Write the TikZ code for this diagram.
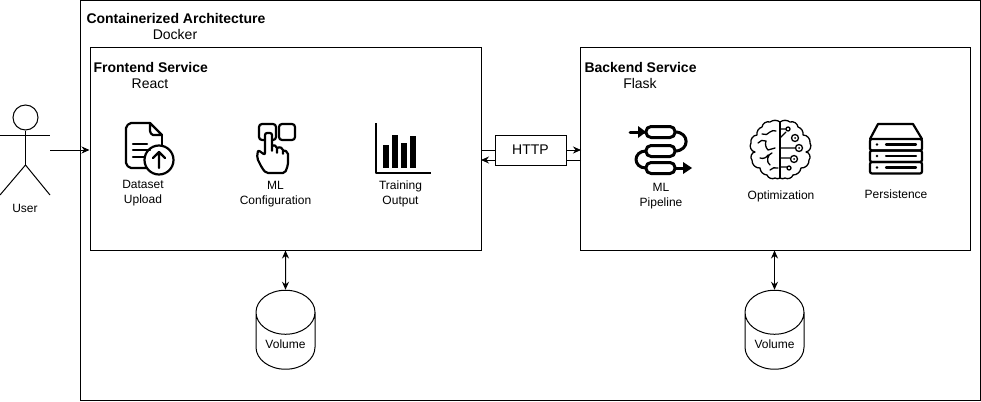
\documentclass[tikz,border=0pt]{standalone}
\usepackage{fontspec}
\setmainfont{Liberation Sans}
\usetikzlibrary{arrows.meta,positioning,calc,shapes.geometric}

\tikzset{
    box/.style={draw, line width=1pt, fill=white, inner sep=0pt},
    title/.style={anchor=west, inner sep=0pt, font=\fontsize{14}{16}\selectfont\bfseries},
    tech/.style={inner sep=0pt, font=\fontsize{14}{16}\selectfont},
    label/.style={inner sep=0pt, align=center, font=\fontsize{12}{15}\selectfont},
    volume/.style={draw, line width=1pt, shape=cylinder, shape border rotate=90, aspect=1.1,
        minimum width=59pt, minimum height=79pt, inner sep=0pt, font=\fontsize{12}{15}\selectfont},
    icon/.style={line width=2.2pt, line join=round, line cap=round},
    pipe/.style={line width=3pt, line join=round, line cap=round},
    thin icon/.style={line width=1.3pt, line join=round, line cap=round},
}

\begin{document}
\begin{tikzpicture}[x=1pt,y=-1pt,>={Stealth[length=8pt,width=7pt]},line width=1pt]
    \useasboundingbox (0,0) rectangle (981,401);

    \node[box, minimum width=900pt, minimum height=399pt] (docker)   at (530,200.5) {};
    \node[box, minimum width=391pt, minimum height=202pt] (frontend) at (285.5,149) {};
    \node[box, minimum width=390pt, minimum height=202pt] (backend)  at (775.5,149) {};

    \node[title] (dockertitle) at (86,18)  {Containerized Architecture};
    \node[tech]  (dockertech)  at (175,34) {Docker};
    \node[title] (fronttitle)  at (93,67)  {Frontend Service};
    \node[tech]  (fronttech)   at (150,84) {React};
    \node[title] (backtitle)   at (584,67) {Backend Service};
    \node[tech]  (backtech)    at (640,83.5) {Flask};

    % user
    \node[draw, circle, minimum size=25pt, inner sep=0pt] (head) at (25.5,117.5) {};
    \coordinate (hip) at (25.5,165);
    \coordinate (armr) at (50,135);
    \coordinate (hand) at (50,150);
    \draw (head.south) -- (hip);
    \draw (0,135) -- (armr);
    \draw (0,195) -- (hip) -- (50,195);
    \node[label] (user) at (25,208) {User};

    \coordinate (frontin) at (frontend.west |- hand);
    \draw[->] (hand) -- (frontin);

    % http
    \coordinate (fronta) at (481,150);
    \coordinate (backa)  at (581,150);
    \coordinate (frontb) at (481,160);
    \coordinate (backb)  at (581,160);
    \draw[->] (fronta) -- (backa);
    \draw[->] (backb) -- (frontb);
    \node[box, minimum width=71pt, minimum height=30pt, font=\fontsize{14}{16}\selectfont] (http) at (530.5,150) {HTTP};

    % volumes
    \node[volume] (volfront) at (285.5,341) {\raisebox{-7.5pt}[0pt][0pt]{Volume}};
    \node[volume] (volback)  at (774.5,341) {\raisebox{-7.5pt}[0pt][0pt]{Volume}};
    \draw[<->] (frontend.south) -- (volfront.north);
    \draw[<->] (backend.south -| volback.north) -- (volback.north);

    % dataset upload
    \draw[icon] (150,123) -- (131,123) to[bend right=30] (126,128) -- (126,163) to[bend right=30] (131,168) -- (146,168);
    \draw[icon] (150,123) -- (150,131) to[bend right=30] (153,135) -- (162,135) -- (150,123);
    \draw[icon] (162,135) -- (162,146);
    \draw[icon] (133,144) -- (147,144) (133,150) -- (150,150) (133,157) -- (145,157);
    \draw[icon] (159,160) circle (14.5);
    \draw[icon] (159,168) -- (159,152) (153,158) -- (159,152) -- (165,158);
    \node[label] (dataset) at (143,193) {Dataset\\Upload};

    % ml configuration
    \draw[icon, rounded corners=3pt] (259,124) rectangle (276,140);
    \draw[icon, rounded corners=3pt] (279,124) rectangle (295,140);
    \draw[icon, fill=white, rounded corners=2pt] (265,155) -- (258,150) -- (257,158) -- (262,168) -- (266,173) -- (285,173) -- (288,165) -- (288,152)
        -- (283,150) -- (283,155) -- (283,148) -- (277,147) -- (277,154) -- (277,146) -- (272,145) -- (272,152) -- (272,133) -- (265,133) -- cycle;
    \node[label] (config) at (275.5,194) {ML\\Configuration};

    % training output
    \draw[icon, line width=2.6pt, line cap=butt] (376,123) -- (376,173) -- (431,173);
    \foreach \x/\y in {383/145, 392/135, 401/143, 410/136}
        \fill (\x,\y) rectangle (\x+6,168);
    \node[label] (training) at (400.5,194) {Training\\Output};

    % ml pipeline
    \draw[pipe] (675,132) to[out=0,in=0,looseness=2] (675,151);
    \draw[pipe] (646,151) to[out=180,in=180,looseness=2] (646,168);
    \draw[pipe] (630,132) -- (644,132);
    \fill (638,126) -- (646,132) -- (638,138) -- cycle;
    \draw[pipe] (675,168) -- (685,168);
    \fill (683,162) -- (692,168) -- (683,174) -- cycle;
    \foreach \y in {132,151,168}
        \draw[pipe, fill=white, rounded corners=5pt] (646,\y-5.5) rectangle (675,\y+5.5);
    \node[label] (pipeline) at (661,196) {ML\\Pipeline};

    % optimization
    \draw[thin icon] (780,122) -- (780,178);
    \draw[thin icon] (780,122) to[bend right=35] (770,122) to[bend right=50] (762,127) to[bend right=40] (757,135)
        to[bend right=50] (751,143) to[bend right=60] (755,152) to[bend right=70] (752,160) to[bend right=50] (760,168)
        to[bend right=40] (767,175) to[bend right=50] (775,178) to[bend right=30] (780,178);
    \draw[thin icon] (780,122) to[bend left=35] (790,122) to[bend left=50] (798,127) to[bend left=40] (803,135)
        to[bend left=50] (810,143) to[bend left=60] (806,152) to[bend left=70] (809,160) to[bend left=50] (801,168)
        to[bend left=40] (793,175) to[bend left=50] (785,178) to[bend left=30] (780,178);
    \draw[thin icon] (762,134) to[bend right=40] (770,132) to[bend left=30] (776,131);
    \draw[thin icon] (758,143) to[bend left=40] (766,141) to[bend right=30] (768,150) (768,150) -- (775,148);
    \draw[thin icon] (760,158) to[bend right=40] (768,155) (772,153) to[bend right=70] (770,165);
    \draw[thin icon] (770,170) to[bend left=30] (778,168);
    \draw[thin icon] (780,129) -- (786,129) (780,138) -- (786,132) (780,148) -- (795,148) (780,158) -- (790,158) (780,167) -- (787,167);
    \foreach \x/\y/\r in {788/129/2, 795/138/3.5, 799/148/3.5, 794/159/3.5, 789/168/2}
        \draw[thin icon, fill=white] (\x,\y) circle (\r);
    \foreach \x/\y in {795/138, 799/148, 794/159}
        \fill (\x,\y) circle (1);
    \node[label] (optim) at (781,196) {Optimization};

    % persistence
    \draw[icon] (870,139) -- (878,124) -- (913,124) -- (922,139);
    \foreach \y in {139,150.5,162}
        \draw[icon, rounded corners=2pt] (870,\y) rectangle (922,\y+11.5);
    \foreach \y in {144.5,156,167.5} {
        \fill (877,\y) circle (1.3);
        \draw[icon] (886,\y) -- (916,\y);
    }
    \node[label] (persist) at (896,194.5) {Persistence};
\end{tikzpicture}
\end{document}
